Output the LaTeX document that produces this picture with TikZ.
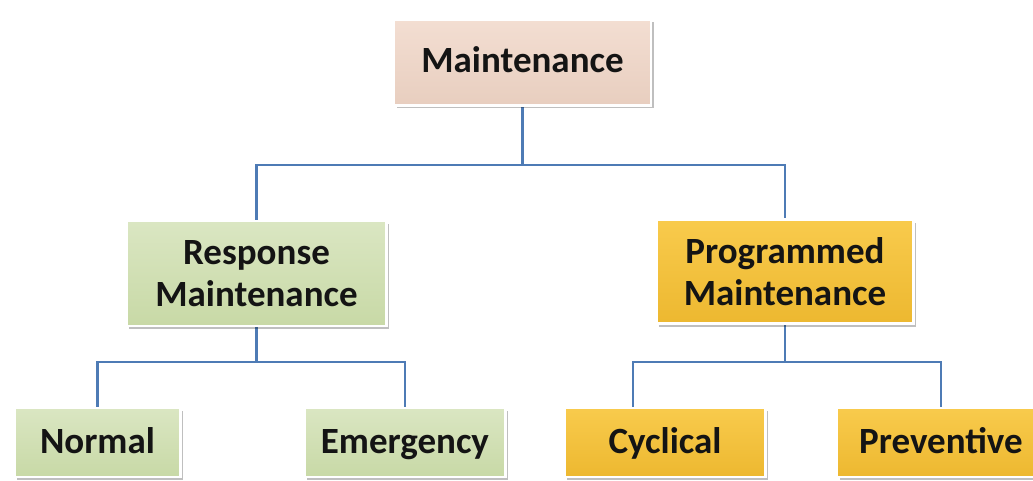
\documentclass[tikz,border=0pt]{standalone}
\usepackage{fontspec}
\setmainfont{Carlito}
\usetikzlibrary{shadows,backgrounds}
\definecolor{peach}{HTML}{F3DED2}
\definecolor{peachdark}{HTML}{E8CEBF}
\definecolor{sage}{HTML}{D7E4BD}
\definecolor{sagedark}{HTML}{C8D9A6}
\definecolor{gold}{HTML}{F8C843}
\definecolor{golddark}{HTML}{EDB830}
\definecolor{linkblue}{HTML}{4E7BB5}
\begin{document}
\begin{tikzpicture}[x=1pt,y=-1pt,
  box/.style={draw=white, line width=2.5pt, inner sep=0pt, align=center,
    font=\bfseries\fontsize{37}{42}\selectfont, text=black!92,
    drop shadow={shadow xshift=2.5pt, shadow yshift=-3pt, fill=black, opacity=0.25}},
  oneline/.style={text height=31pt, text depth=10pt},
  peachbox/.style={box, top color=peach, middle color=peach, bottom color=peachdark},
  sagebox/.style={box, top color=sage!92!white, middle color=sage, bottom color=sagedark},
  goldbox/.style={box, top color=gold!95!white, middle color=gold, bottom color=golddark},
  link/.style={draw=linkblue, line width=2.8pt}]
\useasboundingbox (0,0) rectangle (1033,481);

% top level
\node[peachbox, oneline, minimum width=257pt, minimum height=86pt] (main) at (522.5,62.5) {Maintenance};

% second level
\node[sagebox, minimum width=260pt, minimum height=105pt] (resp) at (256.5,273.5) {Response\\Maintenance};
\node[goldbox, minimum width=257pt, minimum height=104pt] (prog) at (785,271.5) {Programmed\\Maintenance};

% third level
\node[sagebox, oneline, minimum width=166pt, minimum height=69pt] (norm) at (97.5,442.5) {Normal};
\node[sagebox, oneline, minimum width=201pt, minimum height=69pt] (emer) at (405,442.5) {Emergency};
\node[goldbox, oneline, minimum width=201pt, minimum height=69pt] (cycl) at (665,442.5) {Cyclical};
\node[goldbox, oneline, minimum width=208pt, minimum height=69pt] (prev) at (941,442.5) {Preventive};

% junction points of the tree
\coordinate (j0) at (522.5,165);
\coordinate (j1) at (256.5,362);
\coordinate (j2) at (785,362);
\coordinate (cdrop) at (633,362);

\begin{scope}[on background layer]
  \fill[white] (0,0) rectangle (1033,481);
  \draw[link] (main.south) -- (j0) -| (resp.north);
  \draw[link] (j0) -| (prog.north);
  \draw[link] (resp.south) -- (j1) -| (norm.north);
  \draw[link] (j1) -| (emer.north);
  \draw[link] (prog.south) -- (j2) -- (cdrop) -- (cdrop |- cycl.north);
  \draw[link] (j2) -| (prev.north);
\end{scope}
\end{tikzpicture}
\end{document}
